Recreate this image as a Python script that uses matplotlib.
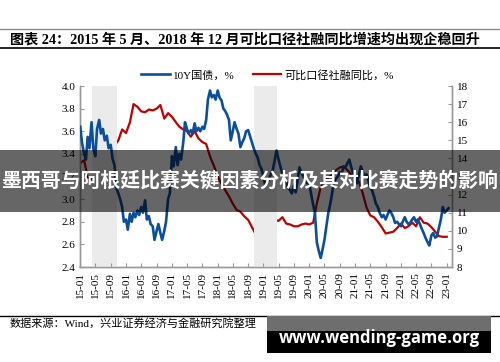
import numpy as np
import pandas as pd
import matplotlib
matplotlib.use("Agg")
from matplotlib import pyplot as plt
from matplotlib import dates as mdates
from matplotlib.patches import Rectangle

plt.rcParams['font.family'] = ['Liberation Serif', 'Noto Sans CJK SC', 'DejaVu Sans']

# 10Y government bond yield, %, semi-monthly readings from 2015-01
bond_10y = [
    3.64, 3.50, 3.40, 3.35, 3.55, 3.45, 3.68, 3.45, 3.38, 3.62,
    3.70, 3.58, 3.62, 3.52, 3.56, 3.45, 3.48, 3.36, 3.30, 3.10,
    3.05, 3.00, 2.93, 2.80, 2.82, 2.73, 2.87, 2.80, 2.88, 2.84,
    2.90, 2.86, 2.93, 2.88, 2.99, 2.82, 2.85, 2.78, 2.76, 2.64,
    2.72, 2.78, 2.70, 2.64, 2.72, 2.80, 3.00, 3.05, 3.38, 3.29,
    3.46, 3.30, 3.40, 3.35, 3.50, 3.68, 3.62, 3.58, 3.61, 3.58,
    3.67, 3.60, 3.63, 3.60, 3.64, 3.62, 3.70, 3.88, 3.96, 3.90,
    3.92, 3.88, 3.96, 3.90, 3.87, 3.80, 3.78, 3.75, 3.70, 3.52,
    3.60, 3.68, 3.62, 3.58, 3.46, 3.50, 3.54, 3.60, 3.61, 3.56,
    3.50, 3.45, 3.40, 3.37, 3.30, 3.27, 3.20, 3.12, 3.15, 3.18,
    3.22, 3.25, 3.35, 3.43, 3.35, 3.29, 3.22, 3.18, 3.17, 3.10,
    3.08, 3.05, 3.12, 3.06, 3.18, 3.28, 3.23, 3.20, 3.17, 3.14,
    3.14, 3.05, 2.95, 2.88, 2.62, 2.55, 2.48, 2.55, 2.64, 2.75,
    2.88, 2.95, 3.05, 3.15, 3.18, 3.20, 3.24, 3.22, 3.29, 3.28,
    3.32, 3.35, 3.28, 3.23, 3.18, 3.14, 3.22, 3.29, 3.25, 3.20,
    3.22, 3.17, 3.10, 3.08, 3.02, 2.96, 2.93, 2.88, 2.84, 2.86,
    2.82, 2.86, 2.90, 2.88, 2.84, 2.79, 2.80, 2.78, 2.76, 2.80,
    2.84, 2.80, 2.78, 2.79, 2.82, 2.84, 2.80, 2.82, 2.78, 2.74,
    2.70, 2.66, 2.62, 2.59, 2.68, 2.70, 2.66, 2.67, 2.75, 2.82,
    2.93, 2.88, 2.90, 2.92,
]

# comparable-basis social financing growth, %, monthly from 2015-01
tsf_yoy = [
    13.75, 13.90, 12.95, 12.85, 13.00, 13.25, 13.60, 14.05, 14.40, 14.70,
    15.00, 15.60, 15.40, 16.00, 17.00, 16.85, 16.60, 16.55, 16.70, 16.65,
    16.75, 16.95, 16.20, 16.50, 16.30, 16.00, 15.75, 15.60, 15.50, 15.20,
    15.50, 15.10, 14.90, 14.80, 14.10, 13.60, 13.00, 12.60, 12.25, 11.90,
    11.50, 11.15, 11.06, 10.80, 10.60, 10.20, 9.80, 9.70, 10.20, 10.40,
    10.50, 10.60, 10.55, 10.75, 10.40, 10.35, 10.25, 10.25, 10.35, 10.40,
    10.35, 10.45, 11.50, 12.40, 12.75, 12.95, 13.10, 13.35, 13.50, 13.55,
    13.35, 13.10, 12.95, 12.70, 12.10, 11.30, 10.85, 10.75, 10.50, 10.20,
    9.85, 9.90, 9.95, 10.15, 10.40, 10.15, 10.25, 10.45, 10.25, 10.75,
    10.45, 10.40, 10.20, 9.95, 9.70, 9.67, 9.67,
]

# easing periods shaded in grey
shade_periods = [("2015-04-03", "2015-10-20"), ("2018-10-21", "2019-04-18")]

title = "图表 24：2015 年 5 月、2018 年 12 月可比口径社融同比增速均出现企稳回升"
source = "数据来源：Wind，兴业证券经济与金融研究院整理"
banner = "墨西哥与阿根廷比赛关键因素分析及其对比赛走势的影响"
watermark = "www.wending-game.org"

bond_dates = pd.date_range("2015-01-01", periods=len(bond_10y), freq="SMS")
tsf_dates = pd.date_range("2015-01-01", periods=len(tsf_yoy), freq="MS")

fig = plt.figure(figsize=(5.0, 3.62), dpi=100)
ax = fig.add_axes([0.16, 0.2624, 0.744, 0.50])
ax2 = ax.twinx()

for start, end in shade_periods:
    ax.axvspan(pd.Timestamp(start), pd.Timestamp(end), color="#ebebeb", lw=0, zorder=0)

l1, = ax.plot(bond_dates, bond_10y, color="#0b4f9c", lw=1.9, zorder=3)
l2, = ax2.plot(tsf_dates, tsf_yoy, color="#c00000", lw=1.6, zorder=3)

ax.set_xlim(pd.Timestamp("2014-12-30"), pd.Timestamp("2023-02-12"))
ax.set_ylim(2.4, 4.0)
ax.set_yticks(np.arange(2.4, 4.01, 0.2))
ax.yaxis.set_major_formatter(plt.FormatStrFormatter("%.1f"))
ax2.set_ylim(8, 18)
ax2.set_yticks(range(8, 19))

ax.xaxis.set_major_locator(mdates.MonthLocator(bymonth=[1, 5, 9]))
ax.xaxis.set_major_formatter(mdates.DateFormatter("%y-%m"))
for lab in ax.get_xticklabels():
    lab.set_rotation(90)

for a in (ax, ax2):
    a.tick_params(labelsize=8, direction="in", length=3, color="#999999", width=0.8)
    a.spines["top"].set_visible(False)
    for s in ("left", "right", "bottom"):
        a.spines[s].set_color("#999999")
        a.spines[s].set_linewidth(1.0)
    a.patch.set_visible(False)
ax.set_zorder(ax2.get_zorder() + 1)

fig.legend([l1, l2], ["10Y国债，%", "可比口径社融同比，%"], loc="center",
           bbox_to_anchor=(0.535, 0.793), ncol=2, frameon=False, fontsize=8,
           handlelength=2.6, handletextpad=0.3, columnspacing=1.6)

# header and footer rules
fig.add_artist(plt.Line2D([0.0, 1.0], [0.92, 0.92], color="#8a86a0", lw=1.0))
fig.add_artist(plt.Line2D([0.0, 1.0], [0.867, 0.867], color="black", lw=1.2))
fig.add_artist(plt.Line2D([0.0, 1.0], [0.128, 0.128], color="black", lw=1.0))
fig.text(0.02, 0.8895, title, fontsize=10.2, fontweight="bold", va="center", ha="left")
fig.text(0.02, 0.108, source, fontsize=8, va="center", ha="left")

# overlay banner across the plot
fig.add_artist(Rectangle((0, 0.4152), 1, 0.1704, transform=fig.transFigure,
                         facecolor="black", alpha=0.6, lw=0, zorder=10))
fig.text(0.5, 0.5005, banner, fontsize=14.3, fontweight="bold", color="white",
         family=["Noto Sans CJK SC"], ha="center", va="center", zorder=11)

# watermark box
fig.add_artist(Rectangle((0.534, 0.0843), 0.448, 0.0428, transform=fig.transFigure,
                         facecolor="#6e6e6e", lw=0, zorder=10))
fig.add_artist(Rectangle((0.534, 0.0249), 0.448, 0.0594, transform=fig.transFigure,
                         facecolor="black", lw=0, zorder=10))
fig.text(0.758, 0.066, watermark, fontsize=12, fontweight="bold", color="white",
         family=["Open Sans", "DejaVu Sans"], ha="center", va="center", zorder=11)

fig.savefig("out.png", dpi=100)
